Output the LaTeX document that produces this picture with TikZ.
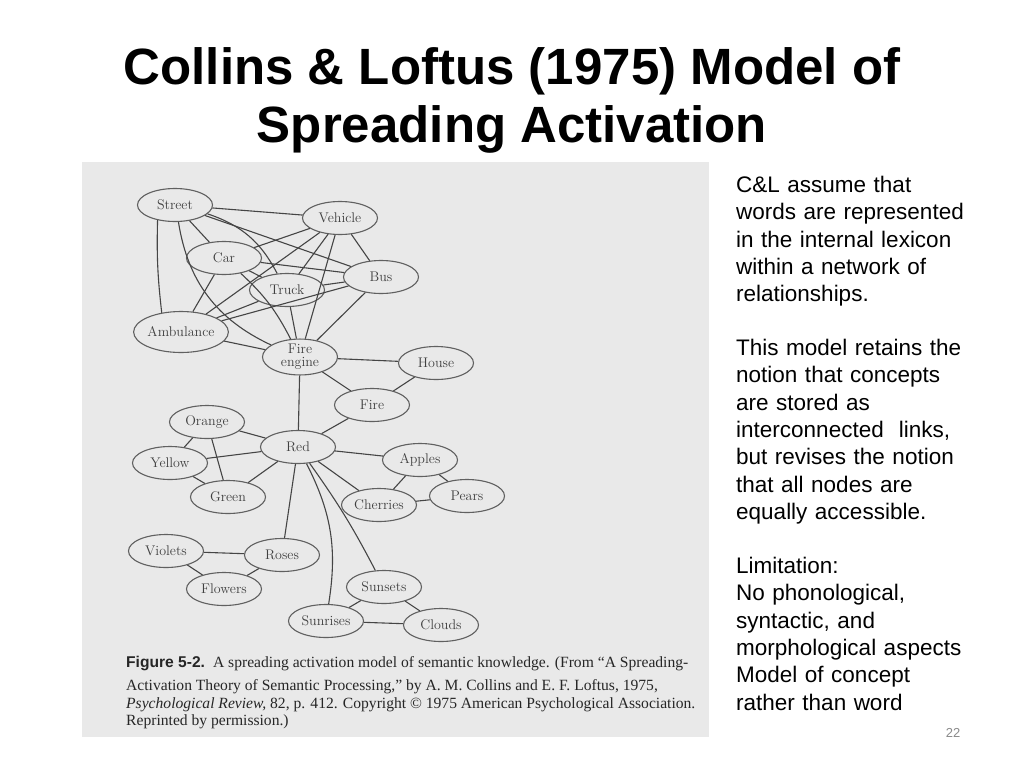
\documentclass[tikz,border=0pt]{standalone}
\usepackage{fontspec}
\newfontfamily\slidesans{Liberation Sans}
\newfontfamily\bookserif{Liberation Serif}
\usetikzlibrary{shapes.geometric, positioning}
\definecolor{photo}{HTML}{E9E9E9}
\definecolor{inkgrey}{HTML}{454545}
\definecolor{ringgrey}{HTML}{606060}
\definecolor{pagegrey}{HTML}{8A8A8A}

\begin{document}
\begin{tikzpicture}[x=1pt, y=-1pt, on grid,
        concept/.style={ellipse, draw=ringgrey, line width=1.1pt, fill=photo, text=black!75, inner sep=0pt,
            minimum width=75pt, minimum height=33pt, font=\fontsize{14}{13}\selectfont},
        link/.style={draw=inkgrey, line width=1.1pt},
        titletext/.style={anchor=base, inner sep=0pt, font=\slidesans\bfseries\fontsize{51}{56}\selectfont},
        slidetext/.style={anchor=north west, text width=280pt, align=left, inner sep=0pt, font=\slidesans\fontsize{22.5}{27.3}\selectfont},
        figline/.style={anchor=base west, inner sep=0pt, font=\bookserif\fontsize{15.6}{18}\selectfont, text=black!85}]
    \useasboundingbox (0,0) rectangle (1024,768);
    \fill[white] (0,0) rectangle (1024,768);
    \node[titletext] (title1) at (512,84) {Collins \& Loftus (1975) Model of};
    \node[titletext] (title2) at (512,142) {Spreading Activation};
    \fill[photo] (82,162) rectangle (709,737);

    % vehicles
    \node[concept] (street) at (175,205) {Street};
    \node[concept] (vehicle) [below right=13pt and 165pt of street] {Vehicle};
    \node[concept] (car) [below right=53pt and 49pt of street] {Car};
    \node[concept] (truck) [below right=32pt and 63pt of car] {Truck};
    \node[concept] (bus) [below right=59pt and 41pt of vehicle] {Bus};
    \node[concept, minimum width=94pt, minimum height=41pt] (ambulance) [below right=127pt and 6pt of street] {Ambulance};
    \node[concept, minimum height=35pt, align=center] (fireengine) [below right=67pt and 13pt of truck] {Fire\\engine};
    \node[concept] (house) [below right=6pt and 136pt of fireengine] {House};
    \node[concept] (fire) [below right=48pt and 72pt of fireengine] {Fire};
    % colours and things
    \node[concept] (red) [below left=90pt and 2pt of fireengine] {Red};
    \node[concept] (orange) [above left=25pt and 91pt of red] {Orange};
    \node[concept] (yellow) [below left=16pt and 128pt of red] {Yellow};
    \node[concept] (green) [below left=50pt and 70pt of red] {Green};
    \node[concept] (apples) [below right=13pt and 122pt of red] {Apples};
    \node[concept] (cherries) [below right=58pt and 81pt of red] {Cherries};
    \node[concept] (pears) [below right=36pt and 47pt of apples] {Pears};
    \node[concept] (roses) [below left=108pt and 16pt of red] {Roses};
    \node[concept] (violets) [above left=4pt and 116pt of roses] {Violets};
    \node[concept] (flowers) [below left=34pt and 58pt of roses] {Flowers};
    \node[concept] (sunsets) [below right=140pt and 86pt of red] {Sunsets};
    \node[concept] (sunrises) [below left=34pt and 58pt of sunsets] {Sunrises};
    \node[concept] (clouds) [below right=38pt and 57pt of sunsets] {Clouds};

    \path[link] (street) edge (vehicle) edge (car) edge (bus)
        edge[bend left=22] (truck) edge[bend right=28] (fireengine)
        (street.221) edge[bend right=4] (ambulance.135)
        (vehicle) edge (car) edge (truck) edge (bus) edge (ambulance) edge (fireengine)
        (car) edge (truck) edge (bus) edge (ambulance) edge[bend left=10] (fireengine)
        (truck) edge (bus) edge (ambulance) edge (fireengine)
        (bus) edge (ambulance) edge (fireengine)
        (ambulance) edge (fireengine)
        (fireengine) edge (house) edge (fire) edge (red)
        (fire) edge (house) edge (red)
        (red) edge (orange) edge (yellow) edge (green) edge (apples) edge (cherries)
        edge (roses) edge[bend left=4] (sunsets) edge[bend left=18] (sunrises)
        (orange) edge (yellow) edge (green)
        (yellow) edge (green)
        (apples) edge (cherries) edge (pears)
        (cherries) edge (pears)
        (violets) edge (roses) edge (flowers)
        (roses) edge (flowers)
        (sunsets) edge (sunrises) edge (clouds)
        (sunrises) edge (clouds);

    % figure caption
    \node[figline] (cap1) at (126,667) {{\slidesans\bfseries Figure 5-2.}\hspace{8pt}A spreading activation model of semantic knowledge. (From “A Spreading-};
    \node[figline] (cap2) at (126,690) {Activation Theory of Semantic Processing,” by A. M. Collins and E. F. Loftus, 1975,};
    \node[figline] (cap3) at (126,708) {\textit{Psychological Review,} 82, p. 412. Copyright © 1975 American Psychological Association.};
    \node[figline] (cap4) at (126,725) {Reprinted by permission.)};

    % notes on the right
    \node[slidetext] (note1) at (736,176) {C\&L assume that\\words are represented\\in the internal lexicon\\within a network of\\relationships.};
    \node[slidetext] (note2) at (736,339) {This model retains the\\notion that concepts\\are stored as\\interconnected\ \ links,\\but revises the notion\\that all nodes are\\equally accessible.};
    \node[slidetext] (note3) at (736,557) {Limitation:\\No phonological,\\syntactic, and\\morphological aspects\\Model of concept\\rather than word};
    \node[text=pagegrey, font=\slidesans\fontsize{13}{15}\selectfont] (pagenum) at (953,733) {22};
\end{tikzpicture}
\end{document}
